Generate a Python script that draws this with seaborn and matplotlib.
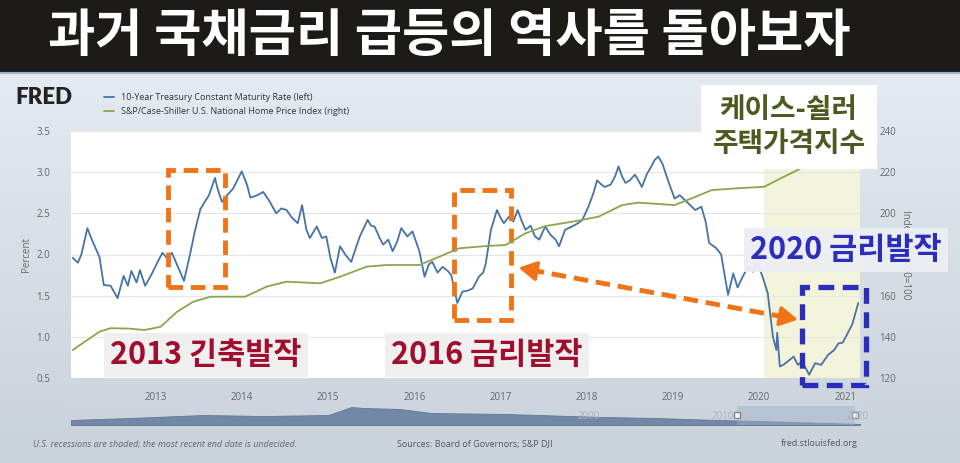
import numpy as np
import matplotlib
matplotlib.use('Agg')
import matplotlib.pyplot as plt
import seaborn as sns
from matplotlib.patches import Rectangle
from matplotlib.lines import Line2D
from matplotlib.colors import LinearSegmentedColormap

sns.set_theme(style='white')
plt.rcParams['font.family'] = ['Open Sans', 'Noto Sans CJK KR', 'DejaVu Sans']

# %% Data
rate_year = [2012.04, 2012.10, 2012.14, 2012.21, 2012.27, 2012.35, 2012.40, 2012.48, 2012.56, 2012.63,
             2012.68, 2012.72, 2012.78, 2012.82, 2012.88, 2012.95, 2013.02, 2013.08, 2013.14, 2013.19,
             2013.26, 2013.33, 2013.40, 2013.46, 2013.52, 2013.56, 2013.62, 2013.69, 2013.72, 2013.77,
             2013.83, 2013.90, 2014.00, 2014.06, 2014.10, 2014.18, 2014.25, 2014.32, 2014.40, 2014.46,
             2014.52, 2014.58, 2014.65, 2014.70, 2014.75, 2014.79, 2014.87, 2014.93, 2014.98, 2015.03,
             2015.08, 2015.14, 2015.20, 2015.27, 2015.33, 2015.37, 2015.46, 2015.50, 2015.54, 2015.60,
             2015.64, 2015.70, 2015.75, 2015.80, 2015.85, 2015.92, 2015.98, 2016.06, 2016.12, 2016.17,
             2016.21, 2016.27, 2016.33, 2016.39, 2016.43, 2016.50, 2016.56, 2016.62, 2016.68, 2016.75,
             2016.80, 2016.83, 2016.89, 2016.96, 2017.00, 2017.04, 2017.10, 2017.15, 2017.20, 2017.25,
             2017.29, 2017.35, 2017.40, 2017.45, 2017.52, 2017.58, 2017.64, 2017.68, 2017.75, 2017.83,
             2017.90, 2017.95, 2018.02, 2018.08, 2018.12, 2018.17, 2018.21, 2018.28, 2018.33, 2018.37,
             2018.41, 2018.45, 2018.50, 2018.56, 2018.60, 2018.64, 2018.70, 2018.75, 2018.79, 2018.83,
             2018.88, 2018.95, 2019.02, 2019.08, 2019.14, 2019.20, 2019.26, 2019.33, 2019.38, 2019.42,
             2019.50, 2019.56, 2019.60, 2019.64, 2019.70, 2019.75, 2019.81, 2019.87, 2019.93, 2019.98,
             2020.04, 2020.10, 2020.16, 2020.20, 2020.21, 2020.24, 2020.28, 2020.33, 2020.40, 2020.45,
             2020.50, 2020.58, 2020.65, 2020.72, 2020.80, 2020.87, 2020.92, 2020.97, 2021.03, 2021.08,
             2021.12, 2021.15]
rate_pct = [1.96, 1.90, 2.00, 2.32, 2.16, 1.97, 1.63, 1.62, 1.47, 1.74,
            1.62, 1.80, 1.66, 1.81, 1.62, 1.75, 1.90, 2.02, 1.95, 2.02,
            1.85, 1.68, 2.00, 2.30, 2.55, 2.62, 2.72, 2.93, 2.80, 2.64,
            2.72, 2.80, 3.01, 2.85, 2.69, 2.72, 2.76, 2.65, 2.50, 2.56,
            2.54, 2.45, 2.38, 2.60, 2.30, 2.20, 2.34, 2.20, 2.22, 1.95,
            1.78, 2.10, 2.00, 1.91, 2.10, 2.22, 2.42, 2.35, 2.34, 2.20,
            2.12, 2.18, 2.04, 2.15, 2.32, 2.22, 2.28, 2.04, 1.73, 1.88,
            1.91, 1.78, 1.85, 1.80, 1.75, 1.41, 1.55, 1.56, 1.59, 1.73,
            1.78, 1.89, 2.30, 2.54, 2.45, 2.38, 2.46, 2.40, 2.54, 2.40,
            2.30, 2.35, 2.22, 2.18, 2.34, 2.24, 2.18, 2.10, 2.30, 2.34,
            2.38, 2.42, 2.58, 2.75, 2.90, 2.85, 2.82, 2.85, 2.95, 3.07,
            2.95, 2.87, 2.90, 2.97, 2.90, 2.82, 2.98, 3.07, 3.15, 3.19,
            3.10, 2.88, 2.68, 2.72, 2.66, 2.60, 2.54, 2.58, 2.40, 2.14,
            2.08, 2.00, 1.75, 1.51, 1.77, 1.60, 1.73, 1.85, 1.79, 1.90,
            1.73, 1.53, 1.00, 0.84, 1.05, 0.64, 0.66, 0.70, 0.76, 0.66,
            0.70, 0.54, 0.68, 0.66, 0.78, 0.84, 0.92, 0.93, 1.05, 1.15,
            1.30, 1.41]

hpi_year = [2012.04, 2012.21, 2012.35, 2012.48, 2012.70, 2012.87, 2013.06, 2013.25, 2013.44, 2013.64,
            2014.04, 2014.29, 2014.52, 2014.91, 2015.14, 2015.45, 2015.68, 2016.06, 2016.29, 2016.52,
            2016.83, 2017.06, 2017.29, 2017.52, 2017.83, 2018.14, 2018.41, 2018.60, 2019.02, 2019.22,
            2019.45, 2019.76, 2020.06, 2020.25, 2020.45, 2020.70, 2020.95]
hpi_index = [133.6, 138.5, 142.5, 144.2, 144.0, 143.3, 144.9, 152.2, 157.1, 159.5,
             159.5, 164.4, 166.8, 166.0, 169.2, 174.1, 174.9, 174.9, 178.9, 183.0,
             184.1, 184.6, 190.3, 193.8, 195.9, 198.4, 204.0, 205.2, 204.0, 207.3,
             211.3, 212.2, 212.9, 217.0, 221.1, 228.0, 236.0]

recession = (2020.06, 2021.17)

# navigator strip at the bottom (height of the trace, read in pixels)
nav_year = [1961.6, 1966, 1971.4, 1976, 1980.7, 1982.4, 1983.3, 1986.0, 1988.3, 1994.0, 2001.0, 2005,
            2009.6, 2015.3, 2020.15]
nav_level = [5, 7, 10, 9, 10, 18, 17, 16, 12, 11, 8, 7, 5, 3, 1]
nav_window = (2011.0, 2019.8)

year_ticks = list(range(2013, 2022))
pct_ticks = [0.5, 1.0, 1.5, 2.0, 2.5, 3.0, 3.5]
idx_ticks = [120, 140, 160, 180, 200, 220, 240]

BLUE = '#4572a7'
GREEN = '#89a54e'
ORANGE = '#ef7418'
NAVY = '#2c2cbd'
W, H = 960, 463


def fx(px):
    return px / W


def fy(py):
    return 1 - py / H


# %% Figure and background
fig = plt.figure(figsize=(9.6, 4.63), dpi=100)
bg = fig.add_axes([0, 0, 1, 1], zorder=-10)
bg.set_xlim(0, 1)
bg.set_ylim(0, 1)
bg.axis('off')
grad = np.linspace(0, 1, 256).reshape(-1, 1)
cmap = LinearSegmentedColormap.from_list('bg', ['#e3eaf1', '#c9d1da'])
bg.imshow(grad, aspect='auto', cmap=cmap, extent=[0, 1, 0, fy(73)], origin='upper')
bg.add_patch(Rectangle((0, fy(72)), 1, 72 / H, color='#1d1b18'))
bg.axhline(fy(73), color='#9db2c7', lw=1.5)

fig.text(fx(449), fy(35), '과거 국채금리 급등의 역사를 돌아보자', family=['Noto Sans CJK KR'],
         fontsize=37, fontweight='heavy', color='white', ha='center', va='center')

# %% Main chart
ax = fig.add_axes([fx(71), fy(378), fx(860 - 71), (378 - 131) / H])
ax.set_facecolor('white')
ax.axvspan(*recession, color='#f3f3dc', lw=0, zorder=0)
sns.lineplot(x=rate_year, y=rate_pct, ax=ax, color=BLUE, lw=1.3)
ax.set_xlim(2012.02, 2021.17)
ax.set_ylim(0.5, 3.5)
ax.set_yticks(pct_ticks)
ax.set_yticklabels([f'{v:.1f}' for v in pct_ticks])
ax.set_xticks(year_ticks)
ax.set_xticklabels([str(y) for y in year_ticks])
ax.grid(axis='y', color='#e6e6e6', lw=0.8)
ax.grid(axis='x', visible=False)
ax.tick_params(axis='y', length=0, pad=15, labelsize=7, labelcolor='#666666')
ax.tick_params(axis='x', length=4, width=0.8, color='#ccd6eb', pad=6, labelsize=7,
               labelcolor='#666666', bottom=True)
ax.set_xlabel('')
ax.set_ylabel('')
for s in ax.spines.values():
    s.set_visible(False)

ax2 = ax.twinx()
sns.lineplot(x=hpi_year, y=hpi_index, ax=ax2, color=GREEN, lw=1.3)
ax2.set_ylim(120, 240)
ax2.set_yticks(idx_ticks)
ax2.set_yticklabels([str(v) for v in idx_ticks])
ax2.tick_params(axis='y', length=0, pad=14, labelsize=7, labelcolor='#666666')
ax2.grid(False)
ax2.set_ylabel('')
for s in ax2.spines.values():
    s.set_visible(False)

fig.text(fx(27), fy(255), 'Percent', rotation=90, fontsize=7, color='#666666', ha='center', va='center')
fig.text(fx(906), fy(255), 'Index Jan 2000=100', rotation=-90, fontsize=7, color='#666666',
         ha='center', va='center')

# %% Legend / logo
fig.text(fx(15), fy(97), 'FRED', family=['Lato'], fontsize=16, fontweight='heavy', color='#222222',
         ha='left', va='center')
fig.add_artist(Line2D([fx(104), fx(114)], [fy(97)] * 2, color=BLUE, lw=1.3))
fig.add_artist(Line2D([fx(104), fx(114)], [fy(111)] * 2, color=GREEN, lw=1.3))
fig.text(fx(121), fy(97), '10-Year Treasury Constant Maturity Rate (left)', fontsize=6.5,
         color='#333333', va='center')
fig.text(fx(121), fy(111), 'S&P/Case-Shiller U.S. National Home Price Index (right)', fontsize=6.5,
         color='#333333', va='center')

# %% Navigator
nav = fig.add_axes([fx(71), fy(425), fx(860 - 71), 20 / H])
nav.fill_between(nav_year, nav_level, color='#7189a6', lw=0.6, ec='#5f7895')
nav.axvspan(*nav_window, color='#9fb1c6', alpha=0.45, lw=0)
nav.plot(list(nav_window), [10, 10], ls='none', marker='s', ms=4.5, mfc='#f4f4f4', mec='#888888')
for yr in (2000, 2010, 2020):
    nav.text(yr, 3, str(yr), ha='center', va='bottom', fontsize=7, color='#a9b3bf')
nav.set_xlim(1961.6, 2020.15)
nav.set_ylim(0, 20)
nav.set_facecolor('none')
nav.set_xticks([])
nav.set_yticks([])
for side, s in nav.spines.items():
    s.set_visible(side == 'top')
    s.set_color('#d0d7df')

# %% Footer
fig.text(fx(33), fy(444), 'U.S. recessions are shaded; the most recent end date is undecided.',
         fontsize=6.5, style='italic', color='#666666', va='center')
fig.text(fx(397), fy(444), 'Sources: Board of Governors; S&P DJI', fontsize=6.5, color='#555555',
         va='center')
fig.text(fx(858), fy(444), 'fred.stlouisfed.org', fontsize=6.5, color='#555555', va='center', ha='right')

# %% Annotations
dash = (0, (3, 1.6))
ax.add_patch(Rectangle((2013.15, 1.60), 0.66, 1.43, fill=False, ec=ORANGE, lw=3.5, ls=dash,
                       clip_on=False, zorder=5))
ax.add_patch(Rectangle((2016.46, 1.21), 0.66, 1.57, fill=False, ec=ORANGE, lw=3.5, ls=dash,
                       clip_on=False, zorder=5))
ax.add_patch(Rectangle((2020.50, 0.42), 0.74, 1.19, fill=False, ec=NAVY, lw=3.8, ls=dash,
                       clip_on=False, zorder=5))

arrow_a = np.array([2017.21, 1.84])
arrow_b = np.array([2020.45, 1.21])
span = arrow_b - arrow_a
ax.plot([arrow_a[0] + 0.04 * span[0], arrow_b[0] - 0.04 * span[0]],
        [arrow_a[1] + 0.04 * span[1], arrow_b[1] - 0.04 * span[1]],
        color=ORANGE, lw=3.5, ls=dash, zorder=5)
for tip, back in ((arrow_a, arrow_a + 0.06 * span), (arrow_b, arrow_b - 0.06 * span)):
    ax.annotate('', xy=tip, xytext=back, zorder=6,
                arrowprops=dict(arrowstyle='-|>,head_length=0.9,head_width=0.5', color=ORANGE,
                                lw=2.5, mutation_scale=12, shrinkA=0, shrinkB=0))

kr = ['Noto Sans CJK KR']
fig.text(fx(206), fy(355), '2013 긴축발작', family=kr, fontsize=22, fontweight='bold', color='#a10d2d',
         ha='center', va='center',
         bbox=dict(boxstyle='square,pad=0.2', fc='#eeeeee', ec='none', alpha=0.92))
fig.text(fx(487), fy(355), '2016 금리발작', family=kr, fontsize=22, fontweight='bold', color='#a10d2d',
         ha='center', va='center',
         bbox=dict(boxstyle='square,pad=0.2', fc='#eeeeee', ec='none', alpha=0.92))
fig.text(fx(846), fy(250), '2020 금리발작', family=kr, fontsize=22, fontweight='bold', color=NAVY,
         ha='center', va='center',
         bbox=dict(boxstyle='square,pad=0.2', fc='#eceef2', ec='none', alpha=0.95))
fig.text(fx(789), fy(127), '케이스-쉴러\n주택가격지수', family=kr, fontsize=20, fontweight='bold',
         color='#4b5a1f', ha='center', va='center', linespacing=1.3,
         bbox=dict(boxstyle='square,pad=0.4', fc='white', ec='none'))

fig.savefig('out.png', dpi=100)
